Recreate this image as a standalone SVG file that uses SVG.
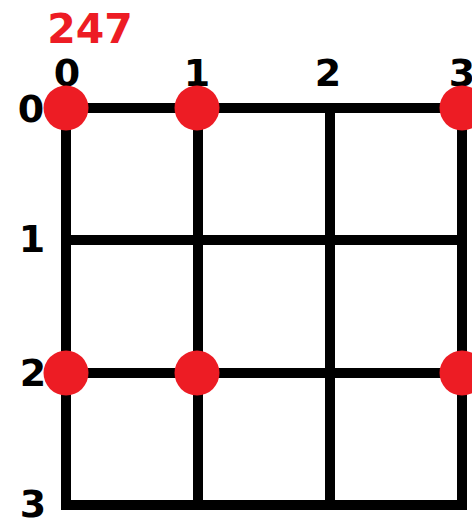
<svg xmlns="http://www.w3.org/2000/svg" width="472" height="525" viewBox="0 0 472 525">
<style>
.grid{stroke:#000;stroke-width:10;fill:none;stroke-linecap:square}
.lbl{font-family:"DejaVu Sans",Verdana,sans-serif;font-weight:bold;font-size:38px;fill:#000;text-anchor:middle}
.title{font-family:"DejaVu Sans",Verdana,sans-serif;font-weight:bold;font-size:41px;fill:#ED1C24;text-anchor:middle}
.dot{fill:#ED1C24}
</style>
<rect width="472" height="525" fill="#fff"/>
<g id="connectors">
<path class="grid" d="M66 108H462M66 240H462M66 373H462M66 505H462M66 108V505M198 108V505M330 108V505M462 108V505"/>
</g>
<g id="title"><text class="title" x="90" y="43">247</text></g>
<g id="col-labels">
<text class="lbl" x="67" y="86">0</text>
<text class="lbl" x="197" y="86">1</text>
<text class="lbl" x="328" y="86">2</text>
<text class="lbl" x="462" y="86">3</text>
</g>
<g id="row-labels">
<text class="lbl" x="31" y="122">0</text>
<text class="lbl" x="32" y="252">1</text>
<text class="lbl" x="33" y="386">2</text>
<text class="lbl" x="33" y="517">3</text>
</g>
<g id="dot-0-0"><circle class="dot" cx="66" cy="108" r="22.5"/></g>
<g id="dot-1-0"><circle class="dot" cx="197" cy="108" r="22.5"/></g>
<g id="dot-3-0"><circle class="dot" cx="462" cy="108" r="22.5"/></g>
<g id="dot-0-2"><circle class="dot" cx="66" cy="373" r="22.5"/></g>
<g id="dot-1-2"><circle class="dot" cx="197" cy="373" r="22.5"/></g>
<g id="dot-3-2"><circle class="dot" cx="462" cy="373" r="22.5"/></g>
</svg>
